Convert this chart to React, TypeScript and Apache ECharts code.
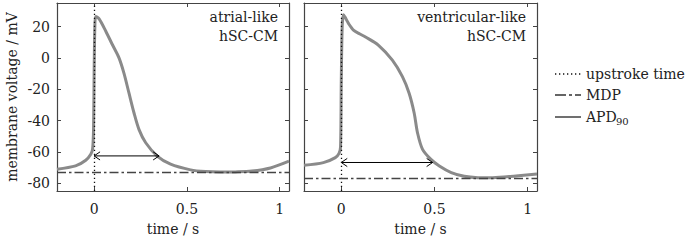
import React, { useEffect, useRef } from "react";
import * as echarts from "echarts";

// ---- data ----
const atrialT = [-0.2, -0.1, -0.045, -0.018, -0.008, -0.003, 0, 0.004, 0.009, 0.027, 0.063, 0.098, 0.134, 0.161, 0.188, 0.215, 0.242, 0.278, 0.34, 0.412, 0.52, 0.6, 0.68, 0.76, 0.85, 0.95, 1.05];
const atrialV = [-71.1, -69, -65.4, -61.6, -58, -45, -10, 20, 26.4, 24.9, 17, 8.5, 0, -9.9, -22.6, -35.2, -45.8, -54.2, -62.7, -67.9, -71.5, -72.6, -72.9, -72.8, -72.3, -70.3, -66];
const ventT = [-0.2, -0.096, -0.032, -0.012, -0.004, 0, 0.005, 0.012, 0.02, 0.04, 0.067, 0.1, 0.13, 0.2, 0.274, 0.328, 0.364, 0.391, 0.409, 0.436, 0.481, 0.526, 0.59, 0.66, 0.733, 0.8, 0.9, 0.95, 1.05];
const ventV = [-68.6, -66.9, -63.7, -61, -57, -15, 20, 27.5, 26, 21.7, 17.5, 15.2, 13.3, 8, -1.5, -12, -22.6, -35.2, -47.9, -58.4, -64.8, -69, -73.2, -75.6, -76.5, -76.6, -75.8, -75.3, -74.2];

const upstrokeTime = [0, 0];
const mdp = [-72.8, -76.8];
const apdEnd = [0.35, 0.49];
const apdLevel = [-62.6, -66.8];
const panelLabels = [["atrial-like", "hSC-CM"], ["ventricular-like", "hSC-CM"]];

const xTicks = [0, 0.5, 1];
const yTicks = [-80, -60, -40, -20, 0, 20];
const xRange = [-0.2, 1.05];
const yRange = [-85, 35];

const legendLabels = ["upstroke time", "MDP", "APD"];

const FONT = "DejaVu Serif";
const CURVE = "#8a8a8a";
const FRAME = "#444";

export default function App() {
  const ref = useRef<HTMLDivElement>(null);

  useEffect(() => {
    if (!ref.current) return;
    const chart = echarts.init(ref.current, null, { renderer: "svg" });

    const grids = [
      { left: 57, top: 3, width: 232, height: 188 },
      { left: 304, top: 3, width: 233, height: 188 },
    ];
    const curves = [
      atrialT.map((t, i) => [t, atrialV[i]]),
      ventT.map((t, i) => [t, ventV[i]]),
    ];

    const xAxes: any[] = [];
    const yAxes: any[] = [];
    const series: any[] = [];

    grids.forEach((g, gi) => {
      const base = {
        type: "value",
        gridIndex: gi,
        min: xRange[0],
        max: xRange[1],
        splitLine: { show: false },
        axisLine: { show: true, onZero: false, lineStyle: { color: FRAME, width: 1.2 } },
        axisTick: { show: true, inside: true, length: 4, customValues: xTicks, lineStyle: { color: FRAME } },
      };
      xAxes.push({
        ...base,
        position: "bottom",
        axisLabel: { show: true, customValues: xTicks, fontFamily: FONT, fontSize: 14, color: "#222", margin: 11 },
        name: "time / s",
        nameLocation: "middle",
        nameGap: 31,
        nameTextStyle: { fontFamily: FONT, fontSize: 14, color: "#222" },
      });
      xAxes.push({ ...base, position: "top", axisLabel: { show: false } });

      const ybase = {
        type: "value",
        gridIndex: gi,
        min: yRange[0],
        max: yRange[1],
        splitLine: { show: false },
        axisLine: { show: true, onZero: false, lineStyle: { color: FRAME, width: 1.2 } },
        axisTick: { show: true, inside: true, length: 4, customValues: yTicks, lineStyle: { color: FRAME } },
      };
      yAxes.push({
        ...ybase,
        position: "left",
        axisLabel: { show: gi === 0, customValues: yTicks, fontFamily: FONT, fontSize: 14, color: "#222", margin: 7 },
        name: gi === 0 ? "membrane voltage / mV" : "",
        nameLocation: "middle",
        nameGap: 38,
        nameTextStyle: { fontFamily: FONT, fontSize: 14, color: "#222" },
      });
      yAxes.push({ ...ybase, position: "right", axisLabel: { show: false } });

      const xi = gi * 2;
      const yi = gi * 2;

      series.push({
        type: "line",
        xAxisIndex: xi,
        yAxisIndex: yi,
        data: curves[gi],
        smooth: 0.3,
        showSymbol: false,
        symbol: "none",
        lineStyle: { color: CURVE, width: 3 },
        z: 2,
        silent: true,
      });

      const t0 = upstrokeTime[gi];
      const t1 = apdEnd[gi];
      const v = apdLevel[gi];
      const dx = 0.032;
      const dy = 2.6;

      series.push({
        type: "line",
        xAxisIndex: xi,
        yAxisIndex: yi,
        data: [[t0, v], [t1, v]],
        showSymbol: false,
        symbol: "none",
        lineStyle: { color: "#000", width: 1 },
        z: 4,
        silent: true,
        markLine: {
          silent: true,
          symbol: "none",
          label: { show: false },
          animation: false,
          data: [
            { xAxis: t0, lineStyle: { color: "#111", width: 1.3, type: [1.3, 2.7] } },
            { yAxis: mdp[gi], lineStyle: { color: "#444", width: 1.3, type: [9, 3, 2.5, 3] } },
          ],
        },
      });

      series.push({
        type: "lines",
        coordinateSystem: "cartesian2d",
        xAxisIndex: xi,
        yAxisIndex: yi,
        polyline: true,
        silent: true,
        z: 4,
        lineStyle: { color: "#000", width: 1, opacity: 1 },
        data: [
          { coords: [[t0 + dx, v + dy], [t0, v], [t0 + dx, v - dy]] },
          { coords: [[t1 - dx, v + dy], [t1, v], [t1 - dx, v - dy]] },
        ],
      });
    });

    const textStyle = (text: string, x: number, y: number, align: string) => ({
      type: "text",
      style: {
        text,
        x,
        y,
        fill: "#222",
        font: `14px "${FONT}"`,
        fontFamily: FONT,
        fontSize: 14,
        align,
        textAlign: align,
        verticalAlign: "middle",
        textVerticalAlign: "middle",
      },
    });

    const graphics: any[] = [
      textStyle(panelLabels[0][0], 278, 17, "right"),
      textStyle(panelLabels[0][1], 278, 36, "right"),
      textStyle(panelLabels[1][0], 526, 17, "right"),
      textStyle(panelLabels[1][1], 526, 36, "right"),
    ];

    const rows = [74, 95, 117];
    const dashes: any[] = [[1.3, 2.7], [11, 3, 3, 3], null];
    const colors = ["#111", "#333", "#222"];
    rows.forEach((y, i) => {
      graphics.push({
        type: "line",
        shape: { x1: 555, y1: y, x2: 581, y2: y },
        style: { stroke: colors[i], lineWidth: 1.3, lineDash: dashes[i] },
      });
      graphics.push(textStyle(legendLabels[i], 586, y, "left"));
    });
    graphics.push({
      type: "text",
      style: {
        text: "90",
        x: 616,
        y: 121,
        fill: "#222",
        font: `10px "${FONT}"`,
        fontFamily: FONT,
        fontSize: 10,
        align: "left",
        textAlign: "left",
        verticalAlign: "middle",
        textVerticalAlign: "middle",
      },
    });

    chart.setOption({
      animation: false,
      backgroundColor: "#fff",
      grid: grids.map((g) => ({ ...g, show: false, containLabel: false })),
      xAxis: xAxes,
      yAxis: yAxes,
      series,
      graphic: { elements: graphics },
    });

    return () => chart.dispose();
  }, []);

  return (
    <div
      ref={ref}
      style={{ position: "fixed", left: 0, top: 0, width: 690, height: 241 }}
    />
  );
}
